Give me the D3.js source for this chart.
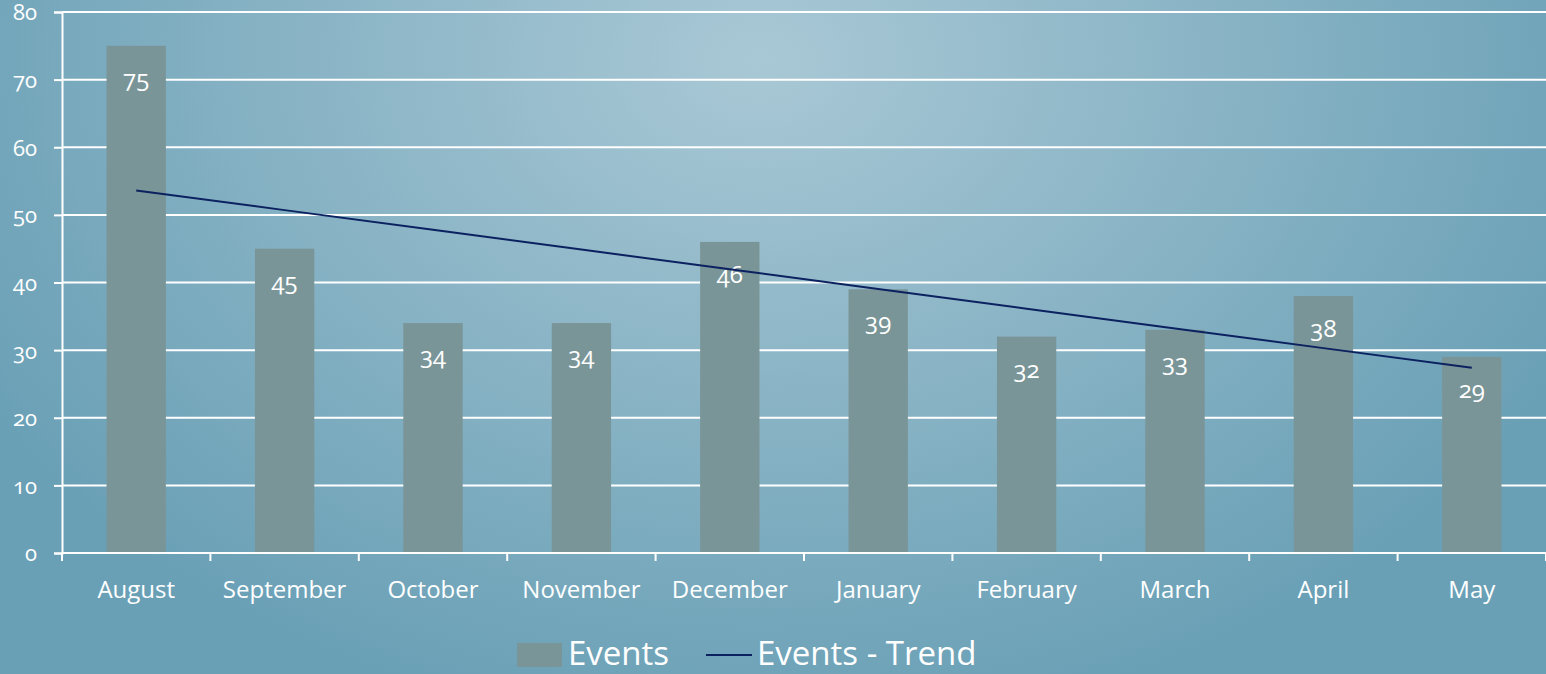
<!DOCTYPE html>
<html>
<head>
<meta charset="utf-8">
<script src="https://cdn.jsdelivr.net/npm/d3@7"></script>
<style>
  html, body { margin: 0; padding: 0; overflow: hidden; }
  svg { display: block; font-family: "Open Sans", sans-serif; font-variant-numeric: oldstyle-nums; }
</style>
</head>
<body>
<svg id="chart" width="1546" height="674"></svg>
<script>
// data
var months = ["August", "September", "October", "November", "December",
              "January", "February", "March", "April", "May"];
var events = [75, 45, 34, 34, 46, 39, 32, 33, 38, 29];
var yTicks = [0, 10, 20, 30, 40, 50, 60, 70, 80];

var W = 1546, H = 674;
var margin = {top: 12, right: 0, bottom: 121, left: 62};
var width = W - margin.left - margin.right,
    height = H - margin.top - margin.bottom;

var svg = d3.select("#chart");

// background gradient, lighter towards the upper middle
var defs = svg.append("defs");
var grad = defs.append("radialGradient")
  .attr("id", "bg")
  .attr("gradientUnits", "userSpaceOnUse")
  .attr("cx", 760).attr("cy", 60)
  .attr("r", 900)
  .attr("gradientTransform", "translate(760,60) scale(1,0.75) translate(-760,-60)");
grad.append("stop").attr("offset", "0%").attr("stop-color", "#a9c8d5");
grad.append("stop").attr("offset", "100%").attr("stop-color", "#6aa0b6");

svg.append("rect")
  .attr("width", W).attr("height", H)
  .attr("fill", "url(#bg)");

var g = svg.append("g")
  .attr("transform", "translate(" + margin.left + "," + margin.top + ")");

var x = d3.scaleBand()
  .domain(months)
  .range([0, width]);

var y = d3.scaleLinear()
  .domain([0, 80])
  .range([height, 0]);

// gridlines
g.append("g")
  .selectAll("line")
  .data(yTicks)
  .join("line")
  .attr("x1", 0).attr("x2", width)
  .attr("y1", d => y(d)).attr("y2", d => y(d))
  .attr("stroke", "#fff")
  .attr("stroke-width", 2);

// bars
var barW = x.bandwidth() * 0.4;
g.append("g")
  .selectAll("rect")
  .data(events)
  .join("rect")
  .attr("x", (d, i) => x(months[i]) + (x.bandwidth() - barW) / 2)
  .attr("y", d => y(d))
  .attr("width", barW)
  .attr("height", d => height - y(d))
  .attr("fill", "#7a9598");

// linear trend of the events
var mx = d3.mean(events, (d, i) => i), my = d3.mean(events);
var slope = d3.sum(events, (d, i) => (i - mx) * (d - my)) / d3.sum(events, (d, i) => (i - mx) * (i - mx));
var trend = events.map((d, i) => my + slope * (i - mx));

var line = d3.line()
  .x((d, i) => x(months[i]) + x.bandwidth() / 2)
  .y(d => y(d));

// value labels
g.append("g")
  .selectAll("text")
  .data(events)
  .join("text")
  .attr("x", (d, i) => x(months[i]) + x.bandwidth() / 2)
  .attr("y", d => y(d) + 41)
  .attr("text-anchor", "middle")
  .attr("fill", "#fff")
  .style("font-size", "24px")
  .text(d => d);

g.append("path")
  .datum(trend)
  .attr("d", line)
  .attr("fill", "none")
  .attr("stroke", "#0b2160")
  .attr("stroke-width", 2);

// axes
var yAxis = g.append("g")
  .call(d3.axisLeft(y).tickValues(yTicks).tickSize(8).tickPadding(17));
var xAxis = g.append("g")
  .attr("transform", "translate(0," + height + ")")
  .call(d3.axisBottom(x).tickSize(0).tickPadding(28));

[yAxis, xAxis].forEach(a => {
  a.select(".domain").attr("stroke", "#fff").attr("stroke-width", 2);
  a.selectAll(".tick line").attr("stroke", "#fff").attr("stroke-width", 2);
  a.selectAll("text").attr("fill", "#fff").style("font-family", "Open Sans, sans-serif");
});
yAxis.selectAll("text").style("font-size", "22px").attr("dy", "0.36em");
xAxis.selectAll("text").style("font-size", "24px");
xAxis.select(".domain").remove();
g.append("line")
  .attr("x1", 0).attr("x2", width)
  .attr("y1", height).attr("y2", height)
  .attr("stroke", "#fff").attr("stroke-width", 2);

// boundary ticks between categories
g.append("g")
  .selectAll("line")
  .data(months.concat(["end"]))
  .join("line")
  .attr("x1", (d, i) => i * x.step())
  .attr("x2", (d, i) => i * x.step())
  .attr("y1", height)
  .attr("y2", height + 8)
  .attr("stroke", "#fff")
  .attr("stroke-width", 2);

// legend
var leg = svg.append("g").attr("transform", "translate(517,643)");
leg.append("rect").attr("width", 45).attr("height", 24).attr("fill", "#7a9598");
leg.append("text").attr("x", 51).attr("y", 22).attr("fill", "#fff")
  .style("font-size", "33px").text("Events");
leg.append("line").attr("x1", 189).attr("x2", 235).attr("y1", 12).attr("y2", 12)
  .attr("stroke", "#0b2160").attr("stroke-width", 2);
leg.append("text").attr("x", 240).attr("y", 22).attr("fill", "#fff")
  .style("font-size", "33px").text("Events - Trend");
</script>
</body>
</html>
